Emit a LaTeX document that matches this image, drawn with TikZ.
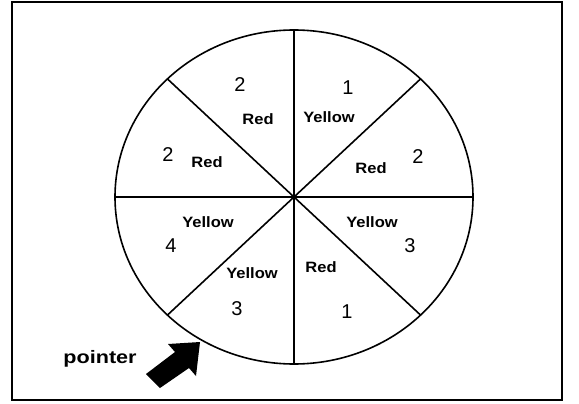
\documentclass[tikz,border=0pt]{standalone}
\usepackage{fontspec}
\setmainfont{Liberation Sans}

\begin{document}
\begin{tikzpicture}[x=1pt,y=-1pt,line width=1.6pt,
  num/.style={font=\fontsize{20}{20}\selectfont},
  col/.style={font=\bfseries\fontsize{15}{15}\selectfont,xscale=1.1}]
\useasboundingbox (0,0) rectangle (579,404);
\draw (12,2) rectangle (562,400);
% wheel
\coordinate (c) at (294,197);
\draw (c) ellipse [x radius=179,y radius=167];
\foreach \a/\n in {0/e,45/ne,90/n,135/nw,180/w,225/sw,270/s,315/se}
  \draw (c) -- +(\a:179 and -167) coordinate (r\n);
% sectors
\draw (348,88) node[num] (n1) {1};
\draw (329,117) node[col] (c1) {Yellow};
\draw (418,157) node[num] (n2) {2};
\draw (371,168) node[col] (c2) {Red};
\draw (410,246) node[num] (n3) {3};
\draw (372,222) node[col] (c3) {Yellow};
\draw (347,312) node[num] (n4) {1};
\draw (321,267) node[col] (c4) {Red};
\draw (237,309) node[num] (n5) {3};
\draw (252,273) node[col] (c5) {Yellow};
\draw (171,246) node[num] (n6) {4};
\draw (208,222) node[col] (c6) {Yellow};
\draw (168,155) node[num] (n7) {2};
\draw (207,162) node[col] (c7) {Red};
\draw (240,85) node[num] (n8) {2};
\draw (258,119) node[col] (c8) {Red};
% pointer
\draw (100,359) node[font=\bfseries\fontsize{18}{18}\selectfont,xscale=1.2] (ptxt) {pointer};
\fill (200,342) -- (196,376) -- (189,368) -- (160,388) -- (146,374)
  -- (175,352) -- (168,344) -- cycle;
\end{tikzpicture}
\end{document}
